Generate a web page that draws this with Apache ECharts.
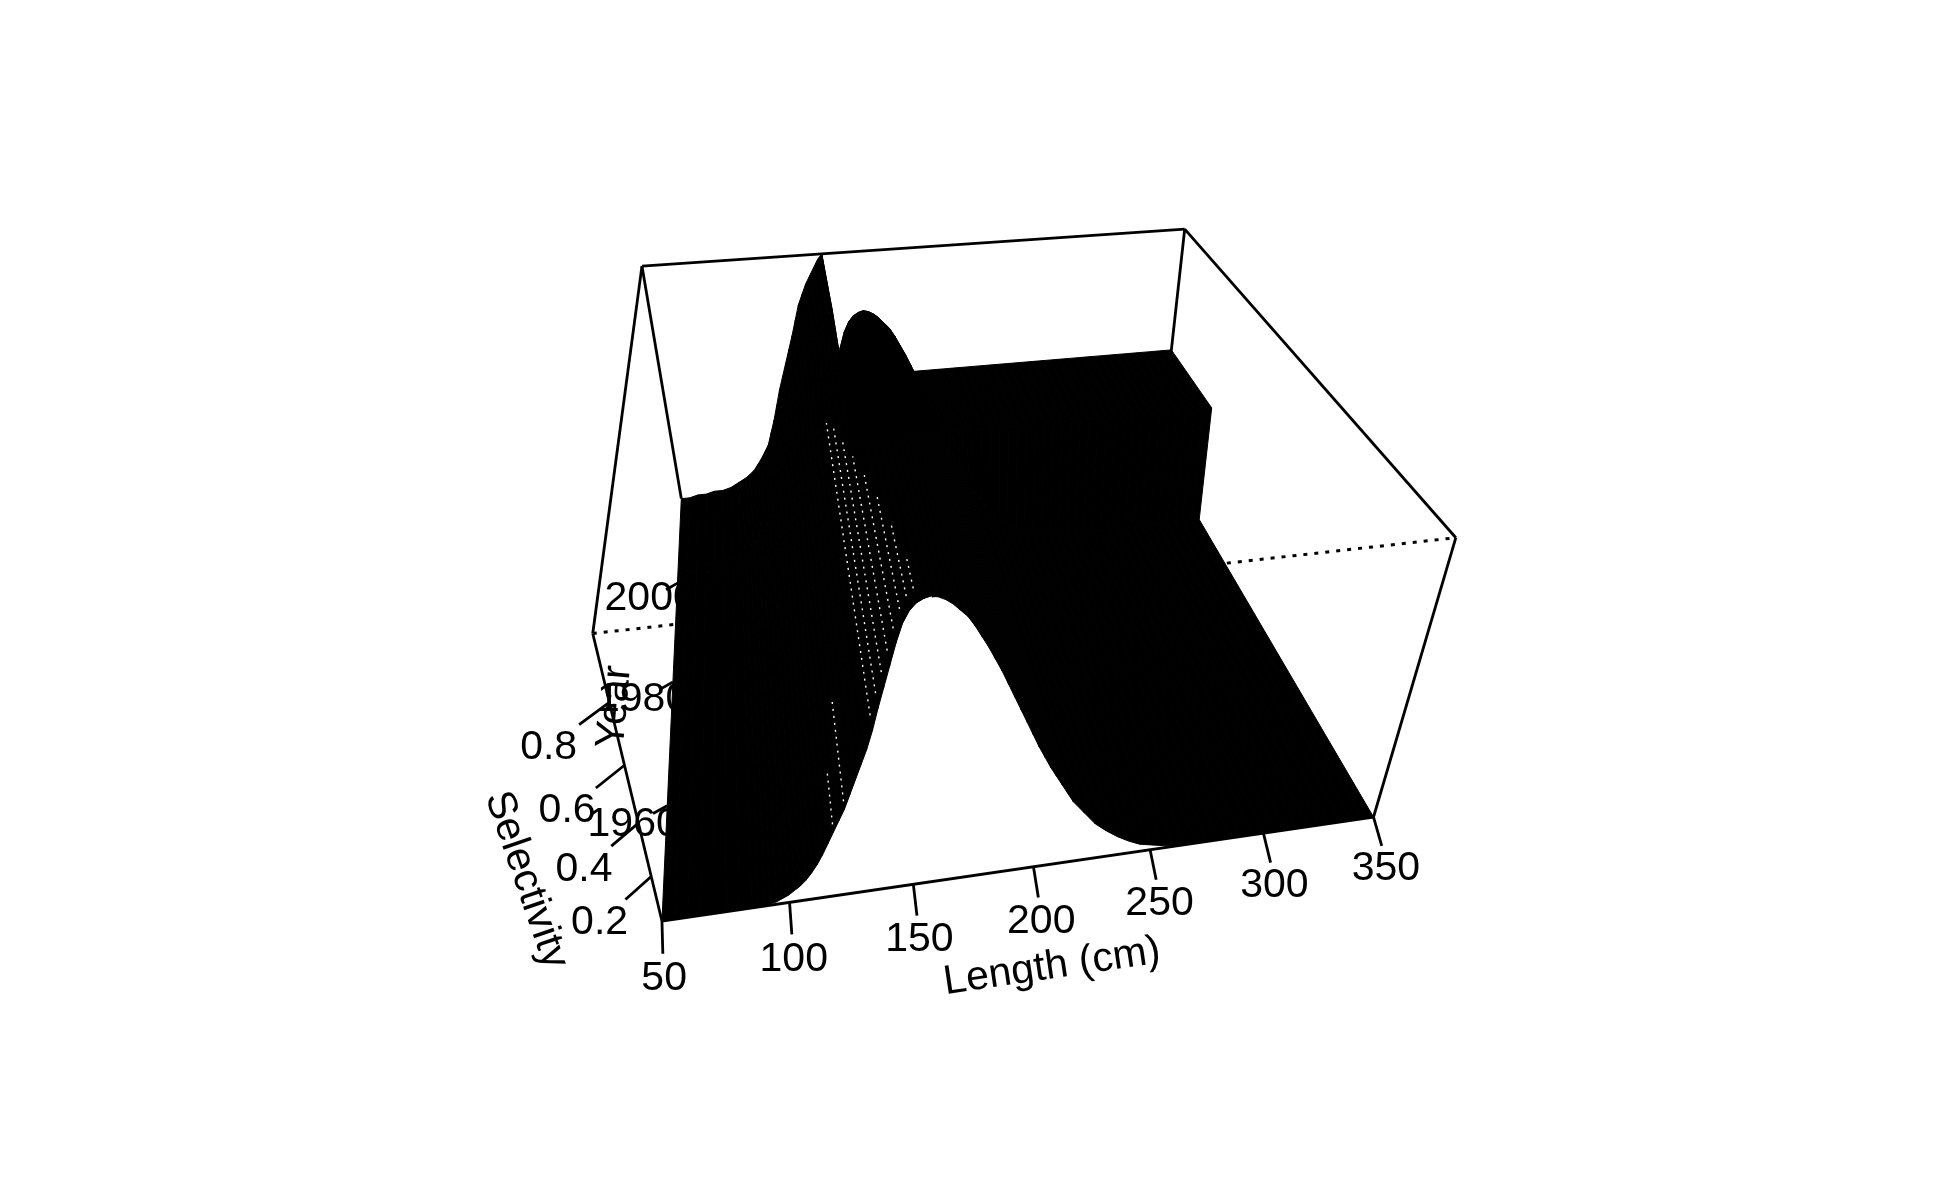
<!DOCTYPE html>
<html><head><meta charset="utf-8">
<style>html,body{margin:0;padding:0;background:#fff}#c{width:1950px;height:1200px}</style>
<script src="https://cdn.jsdelivr.net/npm/echarts@6/dist/echarts.min.js"></script>
</head><body><div id="c"></div>
<script>
// ---------- data ----------
const lengths = [50,55,60,65,70,75,80,85,
 87.5,90,92.5,95,97.5,100,102.5,105,107.5,110,112.5,115,117.5,120,122.5,125,127.5,130,132.5,135,137.5,140,142.5,145,147.5,150,152.5,155,157.5,160,162.5,165,167.5,170,172.5,175,177.5,180,182.5,185,187.5,190,192.5,195,197.5,200,202.5,205,207.5,210,212.5,215,
 220,225,230,235,240,245,250,255,260,265,270,275,280,285,290,295,300,305,310,315,320,325,330,335,340,345,350];
const selDome = [.02,.02,.02,.02,.02,.02,.02,.02,
 .02,.02,.025,.03,.04,.05,.065,.08,.10,.125,.155,.19,.23,.27,.31,.35,.40,.45,.50,.55,.61,.68,.745,.81,.875,.93,.965,.985,.995,1,.995,.985,.97,.95,.93,.90,.865,.83,.79,.75,.705,.66,.615,.57,.525,.48,.44,.40,.365,.33,.295,.26,
 .21,.16,.125,.095,.07,.05,.04,.03,.02,.02,.02,.02,.02,.02,.02,.02,.02,.02,.02,.02,.02,.02,.02,.02,.02,.02,.02];
const selPeak = [.02,.02,.03,.03,.04,.04,.05,.07,
 .08,.09,.105,.12,.145,.17,.20,.23,.285,.34,.405,.47,.525,.58,.635,.69,.75,.81,.85,.89,.92,.95,.98,1,.80,.62,.56,.52,.51,.50,.50,.50,.50,.50,.50,.50,.50,.50,.50,.50,.50,.50,.50,.50,.50,.50,.50,.50,.50,.50,.50,.50,
 .50,.50,.50,.50,.50,.50,.50,.50,.50,.50,.50,.50,.50,.50,.50,.50,.50,.50,.50,.50,.50,.50,.50,.50,.50,.50,.50];
const rowYears = [1945,2002,2003,2021];
const rowSel = [selDome,selDome,selPeak,selPeak];
const lengthTicks = [50,100,150,200,250,300,350];
const yearTicks = [1960,1980,2000];
const selTicks = [0.2,0.4,0.6,0.8];
const lengthRange = [50,350], yearRange = [1945,2021], selRange = [0.02,1];
// lines of the mesh that show through as white dots on the steep face
const speckLengths = [137.5,140,142.5,145,147.5,150,152.5,155];
const speckFrom = [1947,1947,1947,1947,1947,1947,1947,1947];
const speckTo = [2001,1995,1988,1980,1973,1965,1958,1952];
const lowSpeckLengths = [120,125];
const lowSpeckTo = [1953,1960];

// ---------- perspective fitted to the box corners ----------
const calib = [[0,0,0,663,922],[1,0,0,1373,817],[1,0,1,1456,538],[0,0,1,592,632],[0,1,1,642,267],[1,1,1,1185,229],[0,1,0,681,498]];
function solve(){
  const R=[],b=[];
  calib.forEach(([u,v,w,x,y])=>{
    R.push([u,v,w,1,0,0,0,0,-x*u,-x*v,-x*w]);b.push(x);
    R.push([0,0,0,0,u,v,w,1,-y*u,-y*v,-y*w]);b.push(y);
  });
  const n=11,M=[];
  for(let i=0;i<n;i++){M[i]=[];for(let j=0;j<n;j++){let s=0;R.forEach(r=>s+=r[i]*r[j]);M[i][j]=s;}
    let s=0;R.forEach((r,k)=>s+=r[i]*b[k]);M[i][n]=s;}
  for(let i=0;i<n;i++){let p=i;for(let k=i+1;k<n;k++)if(Math.abs(M[k][i])>Math.abs(M[p][i]))p=k;
    [M[i],M[p]]=[M[p],M[i]];
    for(let k=0;k<n;k++){if(k===i)continue;const f=M[k][i]/M[i][i];for(let j=i;j<=n;j++)M[k][j]-=f*M[i][j];}}
  return M.map((r,i)=>r[n]/r[i]);
}
const H = solve();
function pn(u,v,w){const d=H[8]*u+H[9]*v+H[10]*w+1;
  return [(H[0]*u+H[1]*v+H[2]*w+H[3])/d,(H[4]*u+H[5]*v+H[6]*w+H[7])/d];}
const nu=l=>(l-lengthRange[0])/(lengthRange[1]-lengthRange[0]);
const nv=y=>(y-yearRange[0])/(yearRange[1]-yearRange[0]);
const nw=s=>(s-selRange[0])/(selRange[1]-selRange[0]);

// ---------- segments ----------
const seg=(a,b)=>[...pn(...a),...pn(...b)];
const hiddenEdges=[seg([0,0,1],[1,0,1])];
const backEdges=[seg([1,1,1],[1,1,0]),seg([0,1,1],[0,1,0])];
const frontEdges=[seg([0,0,0],[1,0,0]),seg([1,0,0],[1,0,1]),seg([1,0,1],[1,1,1]),seg([1,1,1],[0,1,1]),seg([0,1,1],[0,0,1]),seg([0,0,1],[0,0,0])];
const tv=.05,ts=.03,tyu=.022,tyw=.025;
const tickSegs=[
 ...lengthTicks.map(l=>seg([nu(l),0,0],[nu(l)*.985+.003,-tv,0])),
 ...selTicks.map(s=>seg([0,0,nw(s)],[-ts,-ts,nw(s)])),
 ...yearTicks.map(y=>seg([0,nv(y),0],[-tyu,nv(y),-tyw]))
];
const meshLine=(l,y0,y1)=>{const s=selDome[lengths.indexOf(l)];return seg([nu(l),nv(y0),nw(s)],[nu(l),nv(y1),nw(s)]);};
const speckSegs=[...speckLengths.map((l,i)=>meshLine(l,speckFrom[i],speckTo[i])),...lowSpeckLengths.map((l,i)=>meshLine(l,1946,lowSpeckTo[i]))];
const F='"Liberation Sans",Arial,sans-serif';
const texts=[
 ...lengthTicks.map(l=>[...pn(nu(l)*.97+.006,-.087,0),String(l),0]),
 ...selTicks.map(s=>[...pn(-.059,-.059,nw(s)),s.toFixed(1),0]),
 ...yearTicks.map(y=>[...pn(-.053,nv(y),-.06),String(y),0])
];
const axisTitles=[[1052,967,'Length (cm)',8.4],[526,880,'Selectivity',-71],[615,707,'Year',85]];

// ---------- cells ----------
const cells=[];
for(let i=0;i<rowYears.length-1;i++)for(let j=0;j<lengths.length-1;j++)cells.push([i,j]);

function segSeries(data,z,dash,width,color){
  return {type:'custom',coordinateSystem:'cartesian2d',data,z,silent:true,clip:false,animation:false,
    encode:{x:[0,2],y:[1,3]},
    renderItem:(p,api)=>{
      const a=api.coord([api.value(0),api.value(1)]),b=api.coord([api.value(2),api.value(3)]);
      return {type:'line',shape:{x1:a[0],y1:a[1],x2:b[0],y2:b[1]},style:{stroke:color||'#000',lineWidth:width,lineDash:dash||null,lineCap:'butt',fill:null}};
    }};
}
function textSeries(data,z){
  return {type:'custom',coordinateSystem:'cartesian2d',data:data.map(d=>[d[0],d[1]]),z,silent:true,clip:false,animation:false,
    renderItem:(p,api)=>{
      const a=api.coord([api.value(0),api.value(1)]),d=data[p.dataIndex];
      return {type:'text',x:a[0],y:a[1],rotation:d[3]*Math.PI/180,style:{text:d[2],font:'41px '+F,fill:'#000',align:'center',verticalAlign:'middle'}};
    }};
}
const chart=echarts.init(document.getElementById('c'),null,{renderer:'canvas',width:1950,height:1200});
chart.setOption({
  animation:false,backgroundColor:'#fff',
  grid:{left:0,right:0,top:0,bottom:0},
  xAxis:{type:'value',min:0,max:1950,show:false},
  yAxis:{type:'value',min:0,max:1200,inverse:true,show:false},
  series:[
    segSeries(hiddenEdges,1,[4,7],3),
    segSeries(backEdges,1,null,2.8),
    segSeries(tickSegs,1,null,2.8),
    textSeries(texts,2),
    textSeries(axisTitles,2),
    {type:'custom',coordinateSystem:'cartesian2d',data:cells,z:3,silent:true,clip:false,animation:false,
     renderItem:(p,api)=>{
       const [i,j]=cells[p.dataIndex];
       const q=(r,c)=>api.coord(pn(nu(lengths[c]),nv(rowYears[r]),nw(rowSel[r][c])));
       return {type:'polygon',shape:{points:[q(i,j),q(i,j+1),q(i+1,j+1),q(i+1,j)]},style:{fill:'#000',stroke:'#000',lineWidth:1}};
     }},
    segSeries(speckSegs,4,[2,5],1.4,'#fff'),
    segSeries(frontEdges,5,null,2.8)
  ]
});
</script></body></html>
